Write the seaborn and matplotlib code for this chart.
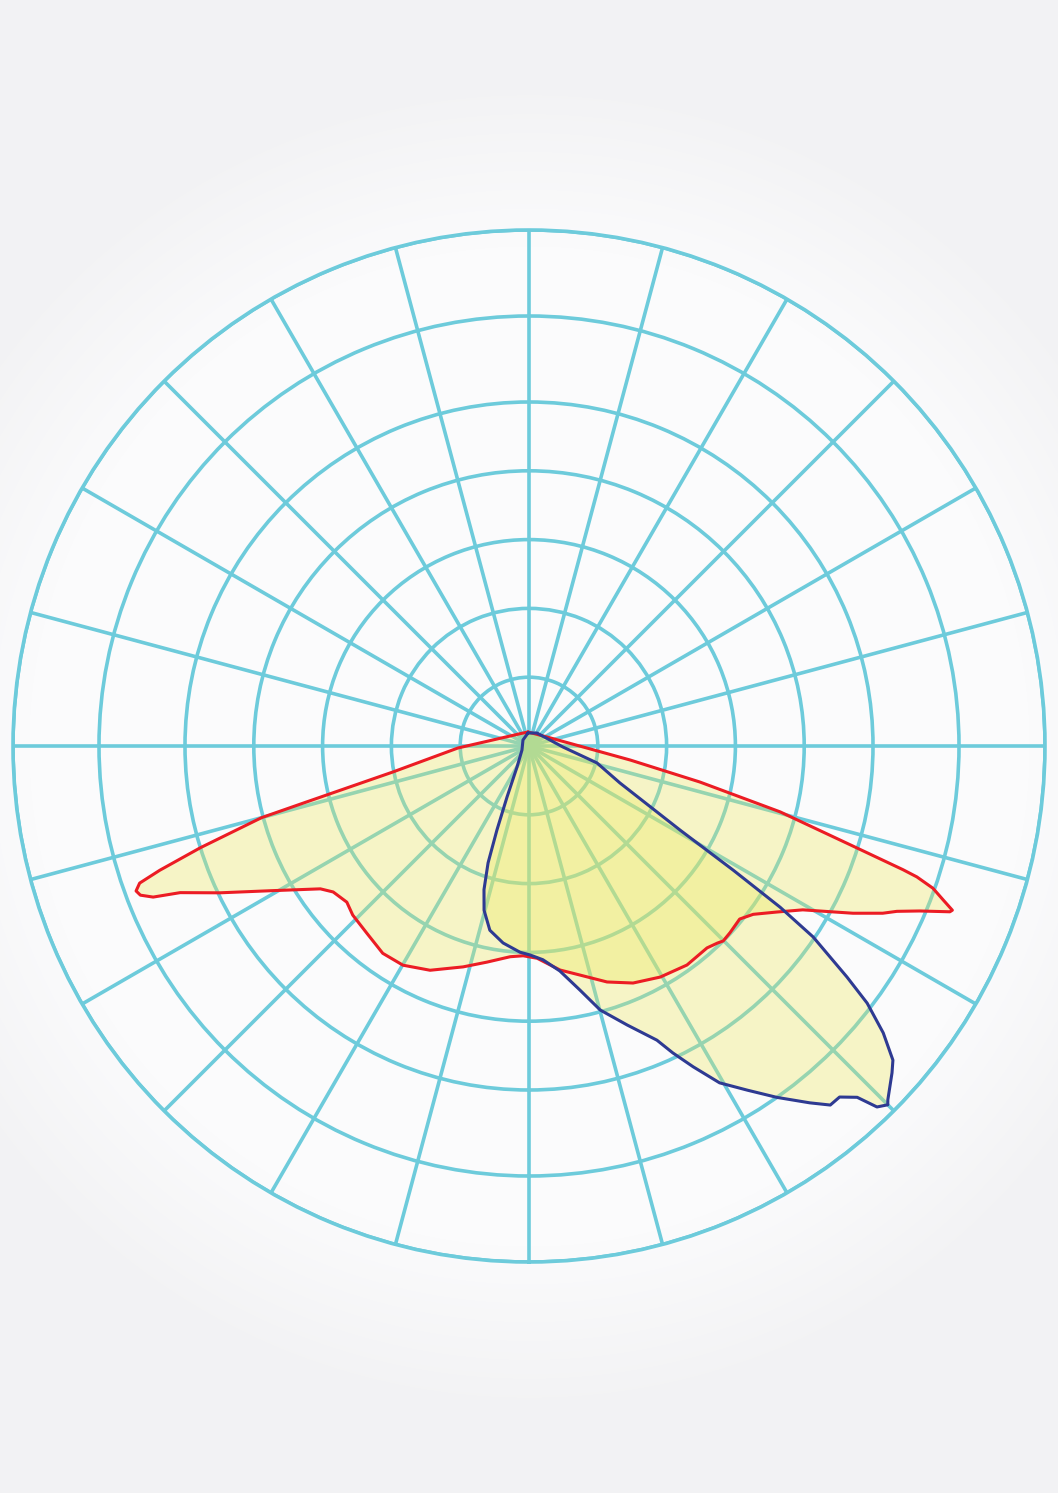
import numpy as np
import pandas as pd
import matplotlib
matplotlib.use("Agg")
import matplotlib.pyplot as plt
import seaborn as sns

sns.set_style("white")

# Polar grid (candela rings) and spoke step
ring_values = [80, 160, 240, 320, 400, 500, 600]
spoke_angles = list(range(0, 360, 15))

# Red curve: gamma angle (deg from nadir, right positive) and intensity
red_gamma = [-176, -155.2, -88.4, -79.2, -75.8, -75.0, -72.8, -71.4, -70.6, -69.75,
             -69.0, -68.1, -67.2, -64.6, -60.8, -55.6, -53.3, -49.4, -46.2, -40.9,
             -35.2, -29.9, -23.8, -16.6, -11.0, -5.1, -1.6, 2.2, 7.9, 12.6,
             18.3, 23.7, 29.6, 35.8, 41.4, 43.7, 44.9, 47.1, 50.6, 53.1,
             56.2, 59.1, 62.7, 64.7, 65.8, 67.1, 68.5, 68.8, 69.6, 70.6,
             71.35, 71.7, 72.9, 75.3, 78.1, 82.1, 116.6, 184]
red_cd = [16.3, 16.6, 82.6, 161, 271, 322, 400, 453, 480, 487,
          484, 471, 440, 398, 345, 294, 284, 279, 284, 288,
          295, 294, 285, 268, 256, 246, 244, 247, 263, 273,
          289, 301, 309, 314, 313, 317, 320, 319, 317, 326,
          347, 371, 424, 455, 469, 493, 526, 528, 514, 498,
          476, 458, 391, 302, 203, 119, 23.4, 16.3]

# Blue curve
blue_gamma = [-175.6, -135, -60.3, -29.7, -23.3, -20.9, -19.3, -17.4, -15.3, -12.0,
              -7.5, -2.5, 0.3, 3.7, 7.8, 11.8, 15.1, 19.4, 23.5, 25.1,
              27.1, 29.5, 32.4, 35.2, 38.2, 40.0, 41.5, 43.05, 43.95, 45.0,
              45.4, 48.0, 49.2, 51.0, 52.75, 54.0, 56.1, 57.3, 58.7, 60.9,
              67.9, 76.0, 88.3, 148.4, 184.4]
blue_cd = [15.2, 9.9, 9.4, 28.1, 64.6, 104.5, 144, 175, 198, 219,
           231, 240, 243, 249, 264, 290, 318, 344, 373, 394,
           419, 450, 474, 500, 528, 545, 545, 559, 583, 590,
           586, 568, 559, 530, 494, 457, 398, 347, 278, 201,
           114, 81.5, 39.5, 17.7, 15.2]

grid_color = "#6dcbdb"
red_color = "#ec1c24"
blue_color = "#2e3a92"
fill_color = "#ece85a"

W, H, DPI = 1058, 1493, 100
fig = plt.figure(figsize=(W / DPI, H / DPI), dpi=DPI, facecolor="#f2f2f4")

# soft light halo behind the diagram
bg = fig.add_axes([0, 0, 1, 1])
yy, xx = np.mgrid[0:H, 0:W]
d = np.hypot(xx - 529, yy - 746)
t = np.clip((d - 500) / 170, 0, 1)
inner = np.array([251, 251, 252]) / 255
outer = np.array([242, 242, 244]) / 255
img = inner[None, None, :] * (1 - t[..., None]) + outer[None, None, :] * t[..., None]
bg.imshow(img, aspect="auto", extent=[0, W, H, 0])
bg.set_axis_off()

ax = fig.add_axes([13 / W, 231 / H, 1032 / W, 1032 / H], projection="polar")
ax.set_facecolor("none")
ax.set_theta_zero_location("S")
ax.set_theta_direction(1)
ax.set_ylim(0, 600)
ax.set_rticks(ring_values)
ax.set_thetagrids(spoke_angles)
ax.set_xticklabels([])
ax.set_yticklabels([])
ax.tick_params(length=0)
ax.grid(True, color=grid_color, linewidth=2.6)
ax.spines["polar"].set_color(grid_color)
ax.spines["polar"].set_linewidth(2.6)
ax.set_axisbelow(True)

df_red = pd.DataFrame({"theta": np.deg2rad(red_gamma), "cd": red_cd})
df_blue = pd.DataFrame({"theta": np.deg2rad(blue_gamma), "cd": blue_cd})

ax.fill(df_red["theta"], df_red["cd"], color=fill_color, alpha=0.33, linewidth=0, zorder=2)
ax.fill(df_blue["theta"], df_blue["cd"], color=fill_color, alpha=0.33, linewidth=0, zorder=2)

sns.lineplot(data=df_red, x="theta", y="cd", sort=False, estimator=None, ax=ax,
             color=red_color, linewidth=2.2, zorder=3,
             solid_joinstyle="round", solid_capstyle="round")
sns.lineplot(data=df_blue, x="theta", y="cd", sort=False, estimator=None, ax=ax,
             color=blue_color, linewidth=2.2, zorder=4,
             solid_joinstyle="round", solid_capstyle="round")
ax.set_xlabel("")
ax.set_ylabel("")
ax.set_ylim(0, 600)

fig.savefig("out.png", dpi=DPI, facecolor=fig.get_facecolor())
